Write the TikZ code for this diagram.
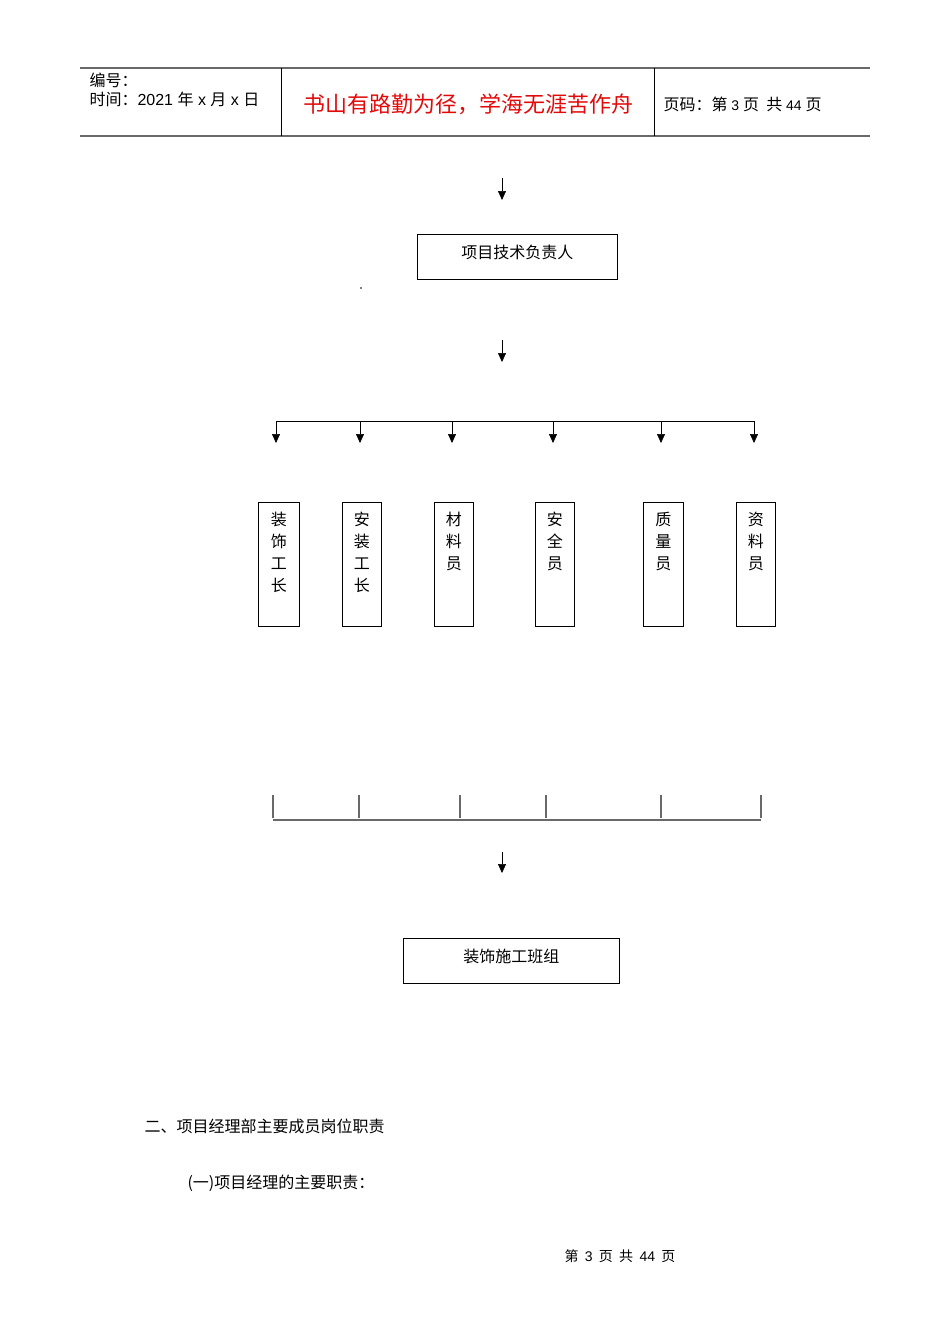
\documentclass[tikz,border=0pt]{standalone}
\usepackage{fontspec}
\setmainfont{Liberation Sans}
\newfontfamily\cjk{Noto Sans CJK SC}
\usepackage{xcolor}
\definecolor{hd_red}{RGB}{225,10,10}
\definecolor{hd_gray}{RGB}{105,105,105}
\usetikzlibrary{arrows.meta, positioning}

\begin{document}
\begin{tikzpicture}[x=1pt,y=-1pt,font=\cjk\fontsize{16}{22}\selectfont,
    box/.style={draw,semithick,minimum width=#1,minimum height=45,inner sep=0,anchor=north west},
    staff/.style={draw,semithick,minimum width=#1,minimum height=124,inner sep=0,anchor=north west},
    arr/.style={-{Triangle[width=8pt,length=9pt]},semithick}]
\useasboundingbox (0,0) rectangle (950,1344);
%ヘッダー
\draw[hd_gray,line width=1.4pt] (80,68)--(870,68);
\draw[hd_gray,line width=1.4pt] (80,136)--(870,136);
\draw[semithick] (281,68)--(281,136);
\draw[semithick] (654,68)--(654,136);
\node[anchor=west] (hno) at (86,80) {编号：};
\node[anchor=west] (hdate) at (86,99) {时间：{\rmfamily 2021 }年{\rmfamily\ x }月{\rmfamily\ x }日};
\node[hd_red,font=\cjk\fontsize{22}{24}\selectfont] (motto) at (468,104) {书山有路勤为径，学海无涯苦作舟};
\node[anchor=west] (hpage) at (660,104) {页码：第{\rmfamily\fontsize{14}{16}\selectfont\ 3\ }页\ \ 共{\rmfamily\fontsize{14}{16}\selectfont\ 44\ }页};
%技術責任者
\coordinate (a1s) at (502,178); \coordinate (a1e) at (502,200);
\draw[arr] (a1s)--(a1e);
\node[box=200] (tech) at (417,234) {};
\node[yshift=4pt] (techtxt) at (tech.center) {项目技术负责人};
\fill (361,288) circle (0.8);
\coordinate (a2s) at (502,340); \coordinate (a2e) at (502,362);
\draw[arr] (a2s)--(a2e);
%分岐線
\coordinate (brl) at (276,421); \coordinate (brr) at (754,421);
\draw[semithick] (brl)--(brr);
\foreach \x/\n in {276/1,360/2,452/3,553/4,661/5,754/6}{
  \coordinate (bt\n) at (\x,421); \coordinate (bd\n) at (\x,443);
  \draw[arr] (bt\n)--(bd\n);
}
%各担当
\foreach \n/\l/\w/\t in {1/258/41/{装\\饰\\工\\长},2/342/39/{安\\装\\工\\长},3/434/39/{材\\料\\员},
    4/535/39/{安\\全\\员},5/643/40/{质\\量\\员},6/736/39/{资\\料\\员}}{
  \node[staff=\w] (s\n) at (\l,502) {};
  \node[anchor=north,align=center,inner sep=0] (st\n) at ([yshift=-10pt]s\n.north) {\t};
}
%集約線
\coordinate (bml) at (273,820); \coordinate (bmr) at (761,820);
\draw[hd_gray,line width=1.3pt] (bml)--(bmr);
\foreach \x/\n in {273/1,359/2,460/3,546/4,661/5,761/6}{
  \coordinate (mt\n) at (\x,795); \coordinate (md\n) at (\x,818);
  \draw[hd_gray,line width=1.3pt] (mt\n)--(md\n);
}
\coordinate (a3s) at (502,852); \coordinate (a3e) at (502,873);
\draw[arr] (a3s)--(a3e);
%施工班組
\node[box=216] (crew) at (403,938) {};
\node[yshift=4pt] (crewtxt) at (crew.center) {装饰施工班组};
%本文
\node[anchor=west] (sec2) at (141,1126) {二、项目经理部主要成员岗位职责};
\node[anchor=west] (sub1) at (184,1183) {(一)项目经理的主要职责：};
\node[font=\cjk\fontsize{14}{16}\selectfont] (foot) at (620,1256) {第\ \ {\rmfamily 3}\ \ 页\ \ 共\ \ {\rmfamily 44}\ \ 页};
\end{tikzpicture}
\end{document}
